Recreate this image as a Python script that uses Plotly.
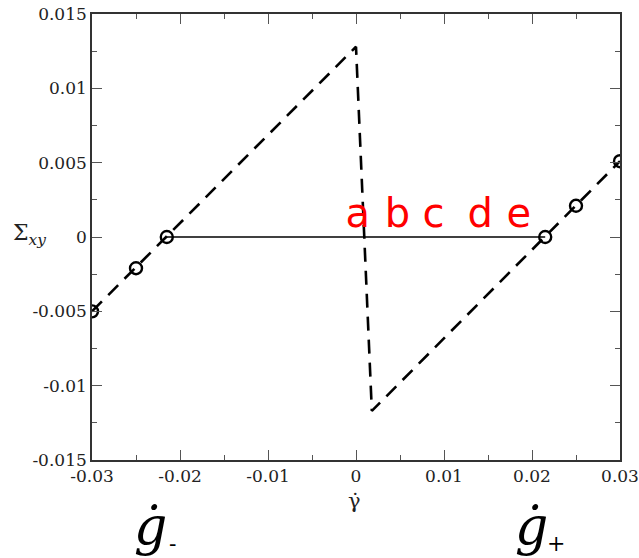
import plotly.graph_objects as go

# data
dash_x = [-0.03, 0.0, 0.0018, 0.03]
dash_y = [-0.005, 0.0128, -0.0117, 0.0051]
solid_x = [-0.0215, 0.0215]
solid_y = [0.0, 0.0]
mark_x = [-0.03, -0.025, -0.0215, 0.0215, 0.025, 0.03]
mark_y = [-0.005, -0.0021, 0.0, 0.0, 0.0021, 0.0051]
lbl_x = [0.0002, 0.0047, 0.0088, 0.0141, 0.0185]
lbl_y = [0.0, 0.0, 0.0, 0.0, 0.0]
lbl_t = ["a", "b", "c", "d", "e"]
xticks = [-0.03, -0.02, -0.01, 0.0, 0.01, 0.02, 0.03]
xtick_text = ["-0.03", "-0.02", "-0.01", "0", "0.01", "0.02", "0.03"]
yticks = [-0.015, -0.01, -0.005, 0.0, 0.005, 0.01, 0.015]
ytick_text = ["-0.015", "-0.01", "-0.005", "0", "0.005", "0.01", "0.015"]

SERIF = "DejaVu Serif"

fig = go.Figure()
fig.add_trace(go.Scatter(x=solid_x, y=solid_y, mode="lines",
                         line=dict(color="black", width=1.3), showlegend=False))
fig.add_trace(go.Scatter(x=dash_x, y=dash_y, mode="lines",
                         line=dict(color="black", width=2.6, dash="14px,9px"), showlegend=False))
fig.add_trace(go.Scatter(x=mark_x, y=mark_y, mode="markers",
                         marker=dict(symbol="circle-open", size=12, color="black",
                                     line=dict(width=2.4, color="black")),
                         showlegend=False))
fig.add_trace(go.Scatter(x=lbl_x, y=lbl_y, mode="text", text=lbl_t,
                         textposition="top center",
                         textfont=dict(color="red", size=40, family="DejaVu Sans"),
                         showlegend=False))

axis_common = dict(showgrid=False, zeroline=False, showline=True, linecolor="#333",
                   linewidth=1.6, mirror="allticks", ticks="inside", ticklen=10,
                   tickcolor="#555", tickwidth=1.3, automargin=False,
                   tickfont=dict(family=SERIF, size=17, color="#222"))
fig.update_xaxes(range=[-0.03, 0.03], tickvals=xticks, ticktext=xtick_text,
                 minor=dict(dtick=0.005, ticks="inside", ticklen=5, tickcolor="#555",
                            tickwidth=1.2, showgrid=False),
                 **axis_common)
fig.update_yaxes(range=[-0.015, 0.015], tickvals=yticks, ticktext=ytick_text,
                 minor=dict(dtick=0.0025, ticks="inside", ticklen=5, tickcolor="#555",
                            tickwidth=1.2, showgrid=False),
                 **axis_common)

fig.add_annotation(text="Σ<sub><i>xy</i></sub>", xref="paper", yref="paper",
                   x=-0.119, y=0.505, showarrow=False, xanchor="center", yanchor="middle",
                   font=dict(family=SERIF, size=22, color="#222"))
fig.add_annotation(text="γ̇", xref="paper", yref="paper",
                   x=0.497, y=-0.092, showarrow=False, xanchor="center", yanchor="middle",
                   font=dict(family=SERIF, size=21, color="#222"))
# g-dot symbols and their subscripts
for gx, sx, sub in [(0.110, 0.153, "-"), (0.833, 0.879, "+")]:
    fig.add_annotation(text="<i>ġ</i>", xref="paper", yref="paper",
                       x=gx, y=-0.148, showarrow=False, xanchor="center", yanchor="middle",
                       font=dict(family=SERIF, size=52, color="black"))
    fig.add_annotation(text=sub, xref="paper", yref="paper",
                       x=sx, y=-0.2195, showarrow=False, xanchor="center", yanchor="bottom",
                       font=dict(family=SERIF, size=22, color="black"))

fig.update_layout(width=639, height=558, margin=dict(l=92, r=19, t=14, b=98),
                  plot_bgcolor="white", paper_bgcolor="white")
fig.write_html("out.html")
